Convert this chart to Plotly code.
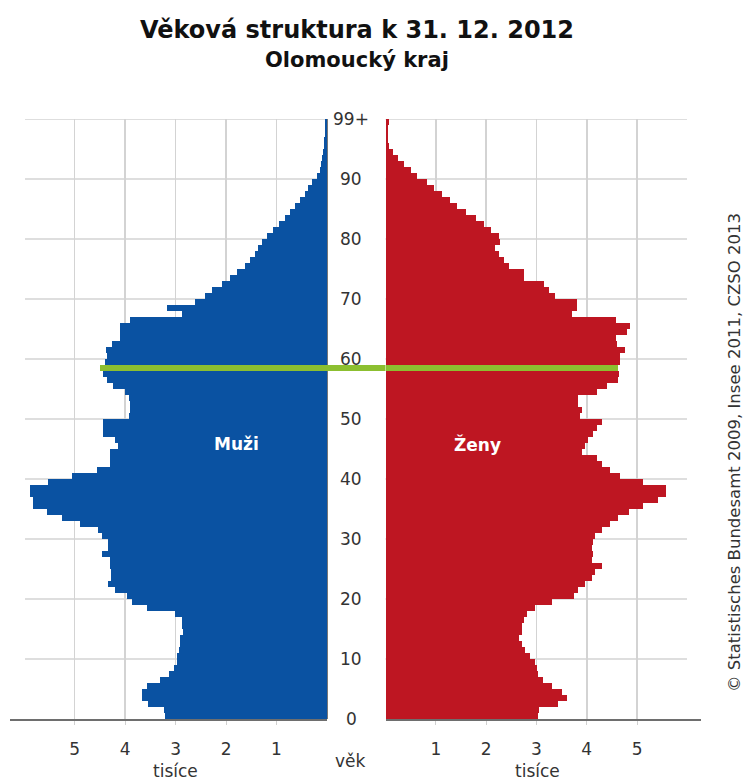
import plotly.graph_objects as go

# ---- data (thousands of persons, age 0 .. 99+) ----
ages = list(range(100))
age_tick_vals = [0, 10, 20, 30, 40, 50, 60, 70, 80, 90, 100]
age_tick_text = ["0", "10", "20", "30", "40", "50", "60", "70", "80", "90", "99+"]
x_tick_vals = [1, 2, 3, 4, 5]

males = [
    3.20, 3.22, 3.54, 3.67, 3.67, 3.57, 3.30, 3.14, 3.04, 2.98,
    2.98, 2.94, 2.91, 2.91, 2.85, 2.88, 2.88, 3.01, 3.57, 3.87,
    3.97, 4.20, 4.33, 4.27, 4.27, 4.30, 4.30, 4.46, 4.33, 4.33,
    4.46, 4.53, 4.89, 5.25, 5.55, 5.82, 5.82, 5.88, 5.88, 5.52,
    5.05, 4.56, 4.30, 4.30, 4.30, 4.15, 4.20, 4.43, 4.43, 4.44,
    3.93, 3.90, 3.90, 3.93, 4.00, 4.23, 4.36, 4.43, 4.50, 4.39,
    4.35, 4.37, 4.26, 4.11, 4.11, 4.11, 3.90, 2.88, 3.17, 2.61,
    2.42, 2.28, 2.09, 1.92, 1.78, 1.62, 1.52, 1.43, 1.36, 1.29,
    1.19, 1.06, 0.96, 0.83, 0.73, 0.63, 0.53, 0.44, 0.37, 0.30,
    0.20, 0.14, 0.12, 0.10, 0.08, 0.06, 0.05, 0.04, 0.03, 0.03,
]
females = [
    3.04, 3.05, 3.43, 3.60, 3.50, 3.30, 3.12, 3.03, 3.01, 2.98,
    2.88, 2.78, 2.71, 2.65, 2.71, 2.71, 2.75, 2.81, 2.98, 3.30,
    3.74, 3.83, 3.97, 4.10, 4.17, 4.30, 4.10, 4.13, 4.10, 4.13,
    4.17, 4.30, 4.46, 4.63, 4.83, 5.12, 5.42, 5.58, 5.58, 5.12,
    4.66, 4.46, 4.30, 4.20, 3.90, 3.97, 4.03, 4.13, 4.20, 4.30,
    3.87, 3.90, 3.83, 3.83, 4.20, 4.40, 4.63, 4.65, 4.63, 4.66,
    4.66, 4.76, 4.60, 4.59, 4.79, 4.86, 4.59, 3.70, 3.80, 3.80,
    3.37, 3.24, 3.14, 2.75, 2.75, 2.45, 2.35, 2.25, 2.18, 2.28,
    2.25, 2.09, 1.95, 1.79, 1.59, 1.43, 1.29, 1.13, 0.96, 0.83,
    0.63, 0.50, 0.37, 0.24, 0.14, 0.06, 0.05, 0.05, 0.05, 0.07,
]
highlight_age = 58

BLUE = "#0A52A2"
RED = "#BE1622"
GREEN = "#8CBF30"
GRID = "#D3D3D3"
TXT = "#333333"
FONT = "DejaVu Sans"

W, H = 750, 781
def px_x(v):
    return v / W
def px_y(v):
    return 1 - v / H

male_colors = [GREEN if a == highlight_age else BLUE for a in ages]
female_colors = [GREEN if a == highlight_age else RED for a in ages]

fig = go.Figure()
fig.add_trace(go.Bar(y=[a + 0.5 for a in ages], x=males, orientation="h", width=1,
                     marker=dict(color=male_colors, line=dict(width=0)),
                     xaxis="x", yaxis="y", showlegend=False, hoverinfo="skip"))
fig.add_trace(go.Bar(y=[a + 0.5 for a in ages], x=females, orientation="h", width=1,
                     marker=dict(color=female_colors, line=dict(width=0)),
                     xaxis="x2", yaxis="y2", showlegend=False, hoverinfo="skip"))

y_dom = [px_y(719), px_y(119)]
common_x = dict(tickvals=x_tick_vals, showgrid=True, gridcolor=GRID, gridwidth=1.5,
                showline=True, linecolor="#6E6E6E", linewidth=2,
                ticks="outside", ticklen=4, tickcolor="#D0D0D0",
                tickfont=dict(family=FONT, size=17, color=TXT), ticklabelstandoff=10)
common_y = dict(range=[0, 100], tickvals=age_tick_vals, showticklabels=False,
                showgrid=False, domain=y_dom)

fig.update_layout(
    width=W, height=H, margin=dict(l=0, r=0, t=0, b=0),
    paper_bgcolor="white", plot_bgcolor="white", bargap=0,
    xaxis=dict(domain=[px_x(10), px_x(327)], range=[6.28, 0], anchor="y",
               zeroline=True, zerolinecolor="#777777", zerolinewidth=1.5, **common_x),
    xaxis2=dict(domain=[px_x(385.5), px_x(701)], range=[0, 6.27], anchor="y2",
                zeroline=False, **common_x),
    yaxis=dict(anchor="x", zeroline=False, **common_y),
    yaxis2=dict(anchor="x2", zeroline=False, **common_y),
)

# horizontal age grid lines (shorter than the axis line, as in the original)
for v in age_tick_vals[1:]:
    fig.add_shape(type="line", xref="paper", yref="y", x0=px_x(25), x1=px_x(327), y0=v, y1=v,
                  line=dict(color=GRID, width=1.5), layer="below")
    fig.add_shape(type="line", xref="paper", yref="y", x0=px_x(385.5), x1=px_x(687), y0=v, y1=v,
                  line=dict(color=GRID, width=1.5), layer="below")

# green highlight continuing through the middle gap
fig.add_shape(type="rect", xref="paper", yref="y", x0=px_x(327), x1=px_x(385.5),
              y0=highlight_age, y1=highlight_age + 1, fillcolor=GREEN, line=dict(width=0),
              layer="above")

ann = []
for v, t in zip(age_tick_vals, age_tick_text):
    ann.append(dict(x=px_x(351), y=v, xref="paper", yref="y", text=t, showarrow=False,
                    xanchor="center", yanchor="middle", font=dict(family=FONT, size=17, color=TXT)))
ann += [
    dict(x=px_x(357), y=px_y(30), xref="paper", yref="paper", text="<b>Věková struktura k 31. 12. 2012</b>",
         showarrow=False, xanchor="center", yanchor="middle", font=dict(family=FONT, size=24, color="#111111")),
    dict(x=px_x(357), y=px_y(60), xref="paper", yref="paper", text="<b>Olomoucký kraj</b>",
         showarrow=False, xanchor="center", yanchor="middle", font=dict(family=FONT, size=21, color="#111111")),
    dict(x=px_x(350), y=px_y(761), xref="paper", yref="paper", text="věk",
         showarrow=False, xanchor="center", yanchor="middle", font=dict(family=FONT, size=17, color=TXT)),
    dict(x=px_x(175), y=px_y(771), xref="paper", yref="paper", text="tisíce",
         showarrow=False, xanchor="center", yanchor="middle", font=dict(family=FONT, size=17, color=TXT)),
    dict(x=px_x(537), y=px_y(771), xref="paper", yref="paper", text="tisíce",
         showarrow=False, xanchor="center", yanchor="middle", font=dict(family=FONT, size=17, color=TXT)),
    dict(x=1.8, y=45.8, xref="x", yref="y", text="<b>Muži</b>", showarrow=False,
         font=dict(family=FONT, size=17, color="white")),
    dict(x=1.82, y=45.8, xref="x2", yref="y2", text="<b>Ženy</b>", showarrow=False,
         font=dict(family=FONT, size=17, color="white")),
    dict(x=px_x(735), y=px_y(453), xref="paper", yref="paper", textangle=-90,
         text="© Statistisches Bundesamt 2009, Insee 2011, CZSO 2013", showarrow=False,
         xanchor="center", yanchor="middle", font=dict(family=FONT, size=16.5, color=TXT)),
]
fig.update_layout(annotations=ann)

fig.write_html("out.html", config={"displayModeBar": False, "staticPlot": True},
               post_script="document.body.style.margin='0px';document.body.style.overflow='hidden';")
